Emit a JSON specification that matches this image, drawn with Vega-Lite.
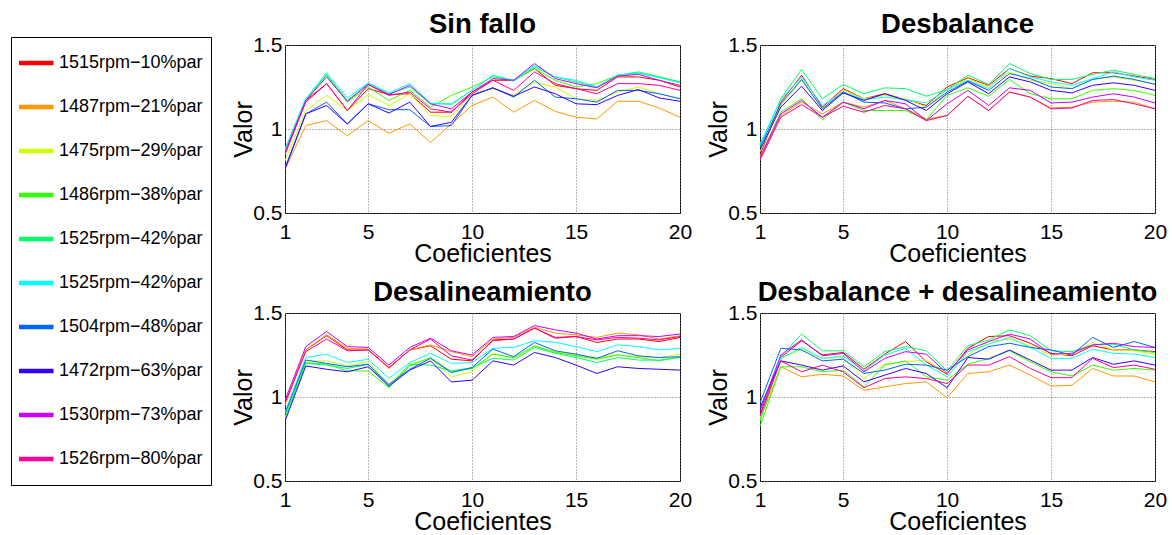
{
"$schema": "https://vega.github.io/schema/vega-lite/v6.json",
"padding": {"left": 10, "top": 10, "right": 0, "bottom": 0},
"background": "white",
"bounds": "flush",
"columns": 2,
"spacing": {"row": 100, "column": 80},
"config": {
  "font": "Liberation Sans",
  "view": {"stroke": "black", "strokeWidth": 1},
  "axis": {"labelFontSize": 21, "titleFontSize": 25, "titleFontWeight": "normal", "labelColor": "black", "titleColor": "black", "domain": false, "ticks": false, "tickSize": 0, "grid": true, "gridColor": "#666", "gridDash": [1, 2], "gridOpacity": 1, "gridWidth": 1, "labelFlush": false, "labelOverlap": false},
  "axisX": {"labelPadding": 8, "titlePadding": -1},
  "axisY": {"labelPadding": 3, "titlePadding": -4},
  "title": {"fontSize": 27.5, "fontWeight": "bold", "color": "black", "anchor": "middle", "frame": "group", "offset": -4, "baseline": "alphabetic"},
  "legend": {"orient": "none", "legendX": -274, "legendY": -8, "strokeColor": "black", "fillColor": "white", "padding": 8, "symbolType": "stroke", "symbolSize": 1296, "symbolStrokeWidth": 4.5, "symbolOffset": -4, "labelFontSize": 18, "labelColor": "black", "labelOffset": 3, "rowPadding": 8, "clipHeight": 36, "labelLimit": 300, "symbolOpacity": 1}
},
"datasets": {
"A": [
{"s":0,"c":1,"v":0.85},{"s":0,"c":2,"v":1.17},{"s":0,"c":3,"v":1.27},{"s":0,"c":4,"v":1.11},{"s":0,"c":5,"v":1.24},{"s":0,"c":6,"v":1.205},{"s":0,"c":7,"v":1.21},{"s":0,"c":8,"v":1.10},{"s":0,"c":9,"v":1.10},{"s":0,"c":10,"v":1.22},{"s":0,"c":11,"v":1.29},{"s":0,"c":12,"v":1.29},{"s":0,"c":13,"v":1.36},{"s":0,"c":14,"v":1.26},{"s":0,"c":15,"v":1.24},{"s":0,"c":16,"v":1.23},{"s":0,"c":17,"v":1.31},{"s":0,"c":18,"v":1.31},{"s":0,"c":19,"v":1.29},{"s":0,"c":20,"v":1.25},
{"s":1,"c":1,"v":0.76},{"s":1,"c":2,"v":1.02},{"s":1,"c":3,"v":1.05},{"s":1,"c":4,"v":0.96},{"s":1,"c":5,"v":1.05},{"s":1,"c":6,"v":0.975},{"s":1,"c":7,"v":1.03},{"s":1,"c":8,"v":0.92},{"s":1,"c":9,"v":1.03},{"s":1,"c":10,"v":1.14},{"s":1,"c":11,"v":1.19},{"s":1,"c":12,"v":1.10},{"s":1,"c":13,"v":1.17},{"s":1,"c":14,"v":1.105},{"s":1,"c":15,"v":1.07},{"s":1,"c":16,"v":1.06},{"s":1,"c":17,"v":1.165},{"s":1,"c":18,"v":1.165},{"s":1,"c":19,"v":1.125},{"s":1,"c":20,"v":1.07},
{"s":2,"c":1,"v":0.81},{"s":2,"c":2,"v":1.11},{"s":2,"c":3,"v":1.20},{"s":2,"c":4,"v":1.11},{"s":2,"c":5,"v":1.205},{"s":2,"c":6,"v":1.14},{"s":2,"c":7,"v":1.21},{"s":2,"c":8,"v":1.08},{"s":2,"c":9,"v":1.075},{"s":2,"c":10,"v":1.21},{"s":2,"c":11,"v":1.24},{"s":2,"c":12,"v":1.20},{"s":2,"c":13,"v":1.28},{"s":2,"c":14,"v":1.25},{"s":2,"c":15,"v":1.18},{"s":2,"c":16,"v":1.17},{"s":2,"c":17,"v":1.22},{"s":2,"c":18,"v":1.25},{"s":2,"c":19,"v":1.21},{"s":2,"c":20,"v":1.18},
{"s":3,"c":1,"v":0.87},{"s":3,"c":2,"v":1.17},{"s":3,"c":3,"v":1.32},{"s":3,"c":4,"v":1.16},{"s":3,"c":5,"v":1.25},{"s":3,"c":6,"v":1.17},{"s":3,"c":7,"v":1.23},{"s":3,"c":8,"v":1.13},{"s":3,"c":9,"v":1.20},{"s":3,"c":10,"v":1.25},{"s":3,"c":11,"v":1.31},{"s":3,"c":12,"v":1.29},{"s":3,"c":13,"v":1.36},{"s":3,"c":14,"v":1.29},{"s":3,"c":15,"v":1.25},{"s":3,"c":16,"v":1.27},{"s":3,"c":17,"v":1.32},{"s":3,"c":18,"v":1.33},{"s":3,"c":19,"v":1.31},{"s":3,"c":20,"v":1.28},
{"s":4,"c":1,"v":0.88},{"s":4,"c":2,"v":1.18},{"s":4,"c":3,"v":1.325},{"s":4,"c":4,"v":1.17},{"s":4,"c":5,"v":1.27},{"s":4,"c":6,"v":1.21},{"s":4,"c":7,"v":1.25},{"s":4,"c":8,"v":1.15},{"s":4,"c":9,"v":1.15},{"s":4,"c":10,"v":1.23},{"s":4,"c":11,"v":1.32},{"s":4,"c":12,"v":1.285},{"s":4,"c":13,"v":1.37},{"s":4,"c":14,"v":1.31},{"s":4,"c":15,"v":1.28},{"s":4,"c":16,"v":1.25},{"s":4,"c":17,"v":1.32},{"s":4,"c":18,"v":1.34},{"s":4,"c":19,"v":1.31},{"s":4,"c":20,"v":1.28},
{"s":5,"c":1,"v":0.88},{"s":5,"c":2,"v":1.18},{"s":5,"c":3,"v":1.335},{"s":5,"c":4,"v":1.185},{"s":5,"c":5,"v":1.275},{"s":5,"c":6,"v":1.215},{"s":5,"c":7,"v":1.27},{"s":5,"c":8,"v":1.155},{"s":5,"c":9,"v":1.145},{"s":5,"c":10,"v":1.23},{"s":5,"c":11,"v":1.32},{"s":5,"c":12,"v":1.29},{"s":5,"c":13,"v":1.38},{"s":5,"c":14,"v":1.31},{"s":5,"c":15,"v":1.29},{"s":5,"c":16,"v":1.25},{"s":5,"c":17,"v":1.32},{"s":5,"c":18,"v":1.335},{"s":5,"c":19,"v":1.305},{"s":5,"c":20,"v":1.275},
{"s":6,"c":1,"v":0.77},{"s":6,"c":2,"v":1.09},{"s":6,"c":3,"v":1.16},{"s":6,"c":4,"v":1.03},{"s":6,"c":5,"v":1.15},{"s":6,"c":6,"v":1.115},{"s":6,"c":7,"v":1.115},{"s":6,"c":8,"v":1.015},{"s":6,"c":9,"v":1.02},{"s":6,"c":10,"v":1.20},{"s":6,"c":11,"v":1.245},{"s":6,"c":12,"v":1.19},{"s":6,"c":13,"v":1.29},{"s":6,"c":14,"v":1.19},{"s":6,"c":15,"v":1.18},{"s":6,"c":16,"v":1.16},{"s":6,"c":17,"v":1.23},{"s":6,"c":18,"v":1.23},{"s":6,"c":19,"v":1.21},{"s":6,"c":20,"v":1.18},
{"s":7,"c":1,"v":0.76},{"s":7,"c":2,"v":1.09},{"s":7,"c":3,"v":1.14},{"s":7,"c":4,"v":1.03},{"s":7,"c":5,"v":1.15},{"s":7,"c":6,"v":1.095},{"s":7,"c":7,"v":1.16},{"s":7,"c":8,"v":1.015},{"s":7,"c":9,"v":1.04},{"s":7,"c":10,"v":1.20},{"s":7,"c":11,"v":1.245},{"s":7,"c":12,"v":1.195},{"s":7,"c":13,"v":1.25},{"s":7,"c":14,"v":1.21},{"s":7,"c":15,"v":1.15},{"s":7,"c":16,"v":1.145},{"s":7,"c":17,"v":1.20},{"s":7,"c":18,"v":1.235},{"s":7,"c":19,"v":1.185},{"s":7,"c":20,"v":1.165},
{"s":8,"c":1,"v":0.86},{"s":8,"c":2,"v":1.17},{"s":8,"c":3,"v":1.31},{"s":8,"c":4,"v":1.165},{"s":8,"c":5,"v":1.265},{"s":8,"c":6,"v":1.205},{"s":8,"c":7,"v":1.26},{"s":8,"c":8,"v":1.15},{"s":8,"c":9,"v":1.12},{"s":8,"c":10,"v":1.22},{"s":8,"c":11,"v":1.30},{"s":8,"c":12,"v":1.29},{"s":8,"c":13,"v":1.39},{"s":8,"c":14,"v":1.30},{"s":8,"c":15,"v":1.27},{"s":8,"c":16,"v":1.245},{"s":8,"c":17,"v":1.315},{"s":8,"c":18,"v":1.325},{"s":8,"c":19,"v":1.29},{"s":8,"c":20,"v":1.26},
{"s":9,"c":1,"v":0.85},{"s":9,"c":2,"v":1.16},{"s":9,"c":3,"v":1.27},{"s":9,"c":4,"v":1.11},{"s":9,"c":5,"v":1.265},{"s":9,"c":6,"v":1.20},{"s":9,"c":7,"v":1.22},{"s":9,"c":8,"v":1.12},{"s":9,"c":9,"v":1.10},{"s":9,"c":10,"v":1.21},{"s":9,"c":11,"v":1.29},{"s":9,"c":12,"v":1.23},{"s":9,"c":13,"v":1.34},{"s":9,"c":14,"v":1.27},{"s":9,"c":15,"v":1.24},{"s":9,"c":16,"v":1.21},{"s":9,"c":17,"v":1.27},{"s":9,"c":18,"v":1.27},{"s":9,"c":19,"v":1.26},{"s":9,"c":20,"v":1.23}
],
"B": [
{"s":0,"c":1,"v":0.845},{"s":0,"c":2,"v":1.16},{"s":0,"c":3,"v":1.32},{"s":0,"c":4,"v":1.13},{"s":0,"c":5,"v":1.24},{"s":0,"c":6,"v":1.18},{"s":0,"c":7,"v":1.21},{"s":0,"c":8,"v":1.175},{"s":0,"c":9,"v":1.14},{"s":0,"c":10,"v":1.25},{"s":0,"c":11,"v":1.305},{"s":0,"c":12,"v":1.26},{"s":0,"c":13,"v":1.36},{"s":0,"c":14,"v":1.315},{"s":0,"c":15,"v":1.30},{"s":0,"c":16,"v":1.27},{"s":0,"c":17,"v":1.335},{"s":0,"c":18,"v":1.335},{"s":0,"c":19,"v":1.315},{"s":0,"c":20,"v":1.295},
{"s":1,"c":1,"v":0.82},{"s":1,"c":2,"v":1.08},{"s":1,"c":3,"v":1.16},{"s":1,"c":4,"v":1.09},{"s":1,"c":5,"v":1.16},{"s":1,"c":6,"v":1.13},{"s":1,"c":7,"v":1.17},{"s":1,"c":8,"v":1.12},{"s":1,"c":9,"v":1.06},{"s":1,"c":10,"v":1.08},{"s":1,"c":11,"v":1.195},{"s":1,"c":12,"v":1.11},{"s":1,"c":13,"v":1.22},{"s":1,"c":14,"v":1.19},{"s":1,"c":15,"v":1.125},{"s":1,"c":16,"v":1.13},{"s":1,"c":17,"v":1.16},{"s":1,"c":18,"v":1.165},{"s":1,"c":19,"v":1.16},{"s":1,"c":20,"v":1.12},
{"s":2,"c":1,"v":0.865},{"s":2,"c":2,"v":1.14},{"s":2,"c":3,"v":1.29},{"s":2,"c":4,"v":1.12},{"s":2,"c":5,"v":1.23},{"s":2,"c":6,"v":1.18},{"s":2,"c":7,"v":1.20},{"s":2,"c":8,"v":1.18},{"s":2,"c":9,"v":1.13},{"s":2,"c":10,"v":1.235},{"s":2,"c":11,"v":1.30},{"s":2,"c":12,"v":1.25},{"s":2,"c":13,"v":1.34},{"s":2,"c":14,"v":1.29},{"s":2,"c":15,"v":1.27},{"s":2,"c":16,"v":1.24},{"s":2,"c":17,"v":1.295},{"s":2,"c":18,"v":1.31},{"s":2,"c":19,"v":1.29},{"s":2,"c":20,"v":1.27},
{"s":3,"c":1,"v":0.835},{"s":3,"c":2,"v":1.10},{"s":3,"c":3,"v":1.18},{"s":3,"c":4,"v":1.055},{"s":3,"c":5,"v":1.16},{"s":3,"c":6,"v":1.11},{"s":3,"c":7,"v":1.11},{"s":3,"c":8,"v":1.11},{"s":3,"c":9,"v":1.055},{"s":3,"c":10,"v":1.20},{"s":3,"c":11,"v":1.245},{"s":3,"c":12,"v":1.195},{"s":3,"c":13,"v":1.295},{"s":3,"c":14,"v":1.21},{"s":3,"c":15,"v":1.18},{"s":3,"c":16,"v":1.18},{"s":3,"c":17,"v":1.23},{"s":3,"c":18,"v":1.24},{"s":3,"c":19,"v":1.23},{"s":3,"c":20,"v":1.20},
{"s":4,"c":1,"v":0.90},{"s":4,"c":2,"v":1.18},{"s":4,"c":3,"v":1.355},{"s":4,"c":4,"v":1.18},{"s":4,"c":5,"v":1.265},{"s":4,"c":6,"v":1.21},{"s":4,"c":7,"v":1.245},{"s":4,"c":8,"v":1.24},{"s":4,"c":9,"v":1.195},{"s":4,"c":10,"v":1.235},{"s":4,"c":11,"v":1.32},{"s":4,"c":12,"v":1.265},{"s":4,"c":13,"v":1.39},{"s":4,"c":14,"v":1.33},{"s":4,"c":15,"v":1.295},{"s":4,"c":16,"v":1.295},{"s":4,"c":17,"v":1.325},{"s":4,"c":18,"v":1.35},{"s":4,"c":19,"v":1.325},{"s":4,"c":20,"v":1.30},
{"s":5,"c":1,"v":0.91},{"s":5,"c":2,"v":1.175},{"s":5,"c":3,"v":1.31},{"s":5,"c":4,"v":1.14},{"s":5,"c":5,"v":1.22},{"s":5,"c":6,"v":1.175},{"s":5,"c":7,"v":1.19},{"s":5,"c":8,"v":1.175},{"s":5,"c":9,"v":1.155},{"s":5,"c":10,"v":1.235},{"s":5,"c":11,"v":1.29},{"s":5,"c":12,"v":1.24},{"s":5,"c":13,"v":1.36},{"s":5,"c":14,"v":1.31},{"s":5,"c":15,"v":1.28},{"s":5,"c":16,"v":1.26},{"s":5,"c":17,"v":1.30},{"s":5,"c":18,"v":1.34},{"s":5,"c":19,"v":1.31},{"s":5,"c":20,"v":1.29},
{"s":6,"c":1,"v":0.89},{"s":6,"c":2,"v":1.15},{"s":6,"c":3,"v":1.295},{"s":6,"c":4,"v":1.12},{"s":6,"c":5,"v":1.22},{"s":6,"c":6,"v":1.16},{"s":6,"c":7,"v":1.155},{"s":6,"c":8,"v":1.12},{"s":6,"c":9,"v":1.13},{"s":6,"c":10,"v":1.22},{"s":6,"c":11,"v":1.285},{"s":6,"c":12,"v":1.23},{"s":6,"c":13,"v":1.33},{"s":6,"c":14,"v":1.30},{"s":6,"c":15,"v":1.25},{"s":6,"c":16,"v":1.24},{"s":6,"c":17,"v":1.295},{"s":6,"c":18,"v":1.315},{"s":6,"c":19,"v":1.295},{"s":6,"c":20,"v":1.265},
{"s":7,"c":1,"v":0.875},{"s":7,"c":2,"v":1.13},{"s":7,"c":3,"v":1.255},{"s":7,"c":4,"v":1.11},{"s":7,"c":5,"v":1.215},{"s":7,"c":6,"v":1.17},{"s":7,"c":7,"v":1.21},{"s":7,"c":8,"v":1.17},{"s":7,"c":9,"v":1.11},{"s":7,"c":10,"v":1.21},{"s":7,"c":11,"v":1.28},{"s":7,"c":12,"v":1.21},{"s":7,"c":13,"v":1.31},{"s":7,"c":14,"v":1.28},{"s":7,"c":15,"v":1.23},{"s":7,"c":16,"v":1.215},{"s":7,"c":17,"v":1.26},{"s":7,"c":18,"v":1.275},{"s":7,"c":19,"v":1.26},{"s":7,"c":20,"v":1.23},
{"s":8,"c":1,"v":0.83},{"s":8,"c":2,"v":1.09},{"s":8,"c":3,"v":1.17},{"s":8,"c":4,"v":1.07},{"s":8,"c":5,"v":1.16},{"s":8,"c":6,"v":1.12},{"s":8,"c":7,"v":1.17},{"s":8,"c":8,"v":1.15},{"s":8,"c":9,"v":1.05},{"s":8,"c":10,"v":1.15},{"s":8,"c":11,"v":1.23},{"s":8,"c":12,"v":1.14},{"s":8,"c":13,"v":1.245},{"s":8,"c":14,"v":1.23},{"s":8,"c":15,"v":1.155},{"s":8,"c":16,"v":1.16},{"s":8,"c":17,"v":1.19},{"s":8,"c":18,"v":1.21},{"s":8,"c":19,"v":1.19},{"s":8,"c":20,"v":1.155},
{"s":9,"c":1,"v":0.815},{"s":9,"c":2,"v":1.07},{"s":9,"c":3,"v":1.145},{"s":9,"c":4,"v":1.07},{"s":9,"c":5,"v":1.135},{"s":9,"c":6,"v":1.10},{"s":9,"c":7,"v":1.14},{"s":9,"c":8,"v":1.12},{"s":9,"c":9,"v":1.05},{"s":9,"c":10,"v":1.08},{"s":9,"c":11,"v":1.195},{"s":9,"c":12,"v":1.11},{"s":9,"c":13,"v":1.22},{"s":9,"c":14,"v":1.19},{"s":9,"c":15,"v":1.12},{"s":9,"c":16,"v":1.125},{"s":9,"c":17,"v":1.17},{"s":9,"c":18,"v":1.175},{"s":9,"c":19,"v":1.15},{"s":9,"c":20,"v":1.12}
],
"C": [
{"s":0,"c":1,"v":0.96},{"s":0,"c":2,"v":1.28},{"s":0,"c":3,"v":1.365},{"s":0,"c":4,"v":1.28},{"s":0,"c":5,"v":1.28},{"s":0,"c":6,"v":1.175},{"s":0,"c":7,"v":1.28},{"s":0,"c":8,"v":1.305},{"s":0,"c":9,"v":1.225},{"s":0,"c":10,"v":1.215},{"s":0,"c":11,"v":1.34},{"s":0,"c":12,"v":1.345},{"s":0,"c":13,"v":1.41},{"s":0,"c":14,"v":1.35},{"s":0,"c":15,"v":1.36},{"s":0,"c":16,"v":1.325},{"s":0,"c":17,"v":1.345},{"s":0,"c":18,"v":1.345},{"s":0,"c":19,"v":1.33},{"s":0,"c":20,"v":1.355},
{"s":1,"c":1,"v":0.95},{"s":1,"c":2,"v":1.28},{"s":1,"c":3,"v":1.37},{"s":1,"c":4,"v":1.29},{"s":1,"c":5,"v":1.285},{"s":1,"c":6,"v":1.17},{"s":1,"c":7,"v":1.28},{"s":1,"c":8,"v":1.31},{"s":1,"c":9,"v":1.27},{"s":1,"c":10,"v":1.24},{"s":1,"c":11,"v":1.345},{"s":1,"c":12,"v":1.355},{"s":1,"c":13,"v":1.415},{"s":1,"c":14,"v":1.38},{"s":1,"c":15,"v":1.37},{"s":1,"c":16,"v":1.355},{"s":1,"c":17,"v":1.38},{"s":1,"c":18,"v":1.37},{"s":1,"c":19,"v":1.345},{"s":1,"c":20,"v":1.365},
{"s":2,"c":1,"v":0.90},{"s":2,"c":2,"v":1.215},{"s":2,"c":3,"v":1.215},{"s":2,"c":4,"v":1.185},{"s":2,"c":5,"v":1.21},{"s":2,"c":6,"v":1.075},{"s":2,"c":7,"v":1.195},{"s":2,"c":8,"v":1.23},{"s":2,"c":9,"v":1.12},{"s":2,"c":10,"v":1.15},{"s":2,"c":11,"v":1.26},{"s":2,"c":12,"v":1.23},{"s":2,"c":13,"v":1.30},{"s":2,"c":14,"v":1.27},{"s":2,"c":15,"v":1.25},{"s":2,"c":16,"v":1.235},{"s":2,"c":17,"v":1.25},{"s":2,"c":18,"v":1.24},{"s":2,"c":19,"v":1.235},{"s":2,"c":20,"v":1.255},
{"s":3,"c":1,"v":0.88},{"s":3,"c":2,"v":1.205},{"s":3,"c":3,"v":1.195},{"s":3,"c":4,"v":1.155},{"s":3,"c":5,"v":1.155},{"s":3,"c":6,"v":1.055},{"s":3,"c":7,"v":1.185},{"s":3,"c":8,"v":1.235},{"s":3,"c":9,"v":1.15},{"s":3,"c":10,"v":1.17},{"s":3,"c":11,"v":1.255},{"s":3,"c":12,"v":1.235},{"s":3,"c":13,"v":1.305},{"s":3,"c":14,"v":1.265},{"s":3,"c":15,"v":1.245},{"s":3,"c":16,"v":1.225},{"s":3,"c":17,"v":1.25},{"s":3,"c":18,"v":1.235},{"s":3,"c":19,"v":1.215},{"s":3,"c":20,"v":1.24},
{"s":4,"c":1,"v":0.87},{"s":4,"c":2,"v":1.20},{"s":4,"c":3,"v":1.19},{"s":4,"c":4,"v":1.17},{"s":4,"c":5,"v":1.195},{"s":4,"c":6,"v":1.06},{"s":4,"c":7,"v":1.195},{"s":4,"c":8,"v":1.19},{"s":4,"c":9,"v":1.155},{"s":4,"c":10,"v":1.175},{"s":4,"c":11,"v":1.23},{"s":4,"c":12,"v":1.22},{"s":4,"c":13,"v":1.295},{"s":4,"c":14,"v":1.26},{"s":4,"c":15,"v":1.235},{"s":4,"c":16,"v":1.205},{"s":4,"c":17,"v":1.235},{"s":4,"c":18,"v":1.22},{"s":4,"c":19,"v":1.22},{"s":4,"c":20,"v":1.235},
{"s":5,"c":1,"v":0.91},{"s":5,"c":2,"v":1.235},{"s":5,"c":3,"v":1.255},{"s":5,"c":4,"v":1.205},{"s":5,"c":5,"v":1.225},{"s":5,"c":6,"v":1.11},{"s":5,"c":7,"v":1.205},{"s":5,"c":8,"v":1.26},{"s":5,"c":9,"v":1.20},{"s":5,"c":10,"v":1.205},{"s":5,"c":11,"v":1.29},{"s":5,"c":12,"v":1.295},{"s":5,"c":13,"v":1.335},{"s":5,"c":14,"v":1.325},{"s":5,"c":15,"v":1.30},{"s":5,"c":16,"v":1.27},{"s":5,"c":17,"v":1.31},{"s":5,"c":18,"v":1.30},{"s":5,"c":19,"v":1.28},{"s":5,"c":20,"v":1.29},
{"s":6,"c":1,"v":0.90},{"s":6,"c":2,"v":1.22},{"s":6,"c":3,"v":1.20},{"s":6,"c":4,"v":1.18},{"s":6,"c":5,"v":1.195},{"s":6,"c":6,"v":1.075},{"s":6,"c":7,"v":1.165},{"s":6,"c":8,"v":1.23},{"s":6,"c":9,"v":1.145},{"s":6,"c":10,"v":1.175},{"s":6,"c":11,"v":1.285},{"s":6,"c":12,"v":1.24},{"s":6,"c":13,"v":1.325},{"s":6,"c":14,"v":1.275},{"s":6,"c":15,"v":1.255},{"s":6,"c":16,"v":1.23},{"s":6,"c":17,"v":1.275},{"s":6,"c":18,"v":1.245},{"s":6,"c":19,"v":1.235},{"s":6,"c":20,"v":1.24},
{"s":7,"c":1,"v":0.855},{"s":7,"c":2,"v":1.185},{"s":7,"c":3,"v":1.165},{"s":7,"c":4,"v":1.15},{"s":7,"c":5,"v":1.18},{"s":7,"c":6,"v":1.065},{"s":7,"c":7,"v":1.16},{"s":7,"c":8,"v":1.215},{"s":7,"c":9,"v":1.09},{"s":7,"c":10,"v":1.10},{"s":7,"c":11,"v":1.215},{"s":7,"c":12,"v":1.19},{"s":7,"c":13,"v":1.265},{"s":7,"c":14,"v":1.235},{"s":7,"c":15,"v":1.19},{"s":7,"c":16,"v":1.14},{"s":7,"c":17,"v":1.18},{"s":7,"c":18,"v":1.17},{"s":7,"c":19,"v":1.165},{"s":7,"c":20,"v":1.16},
{"s":8,"c":1,"v":0.98},{"s":8,"c":2,"v":1.30},{"s":8,"c":3,"v":1.39},{"s":8,"c":4,"v":1.30},{"s":8,"c":5,"v":1.295},{"s":8,"c":6,"v":1.19},{"s":8,"c":7,"v":1.295},{"s":8,"c":8,"v":1.35},{"s":8,"c":9,"v":1.275},{"s":8,"c":10,"v":1.25},{"s":8,"c":11,"v":1.355},{"s":8,"c":12,"v":1.36},{"s":8,"c":13,"v":1.425},{"s":8,"c":14,"v":1.40},{"s":8,"c":15,"v":1.38},{"s":8,"c":16,"v":1.345},{"s":8,"c":17,"v":1.365},{"s":8,"c":18,"v":1.365},{"s":8,"c":19,"v":1.36},{"s":8,"c":20,"v":1.375},
{"s":9,"c":1,"v":0.965},{"s":9,"c":2,"v":1.27},{"s":9,"c":3,"v":1.345},{"s":9,"c":4,"v":1.275},{"s":9,"c":5,"v":1.28},{"s":9,"c":6,"v":1.175},{"s":9,"c":7,"v":1.28},{"s":9,"c":8,"v":1.345},{"s":9,"c":9,"v":1.245},{"s":9,"c":10,"v":1.22},{"s":9,"c":11,"v":1.335},{"s":9,"c":12,"v":1.345},{"s":9,"c":13,"v":1.41},{"s":9,"c":14,"v":1.355},{"s":9,"c":15,"v":1.36},{"s":9,"c":16,"v":1.34},{"s":9,"c":17,"v":1.355},{"s":9,"c":18,"v":1.35},{"s":9,"c":19,"v":1.34},{"s":9,"c":20,"v":1.36}
],
"D": [
{"s":0,"c":1,"v":0.895},{"s":0,"c":2,"v":1.235},{"s":0,"c":3,"v":1.335},{"s":0,"c":4,"v":1.25},{"s":0,"c":5,"v":1.265},{"s":0,"c":6,"v":1.165},{"s":0,"c":7,"v":1.255},{"s":0,"c":8,"v":1.33},{"s":0,"c":9,"v":1.21},{"s":0,"c":10,"v":1.135},{"s":0,"c":11,"v":1.29},{"s":0,"c":12,"v":1.36},{"s":0,"c":13,"v":1.365},{"s":0,"c":14,"v":1.32},{"s":0,"c":15,"v":1.26},{"s":0,"c":16,"v":1.245},{"s":0,"c":17,"v":1.305},{"s":0,"c":18,"v":1.28},{"s":0,"c":19,"v":1.28},{"s":0,"c":20,"v":1.27},
{"s":1,"c":1,"v":0.865},{"s":1,"c":2,"v":1.18},{"s":1,"c":3,"v":1.12},{"s":1,"c":4,"v":1.135},{"s":1,"c":5,"v":1.125},{"s":1,"c":6,"v":1.04},{"s":1,"c":7,"v":1.06},{"s":1,"c":8,"v":1.08},{"s":1,"c":9,"v":1.09},{"s":1,"c":10,"v":0.995},{"s":1,"c":11,"v":1.14},{"s":1,"c":12,"v":1.15},{"s":1,"c":13,"v":1.19},{"s":1,"c":14,"v":1.13},{"s":1,"c":15,"v":1.065},{"s":1,"c":16,"v":1.07},{"s":1,"c":17,"v":1.17},{"s":1,"c":18,"v":1.125},{"s":1,"c":19,"v":1.125},{"s":1,"c":20,"v":1.09},
{"s":2,"c":1,"v":0.875},{"s":2,"c":2,"v":1.23},{"s":2,"c":3,"v":1.285},{"s":2,"c":4,"v":1.23},{"s":2,"c":5,"v":1.235},{"s":2,"c":6,"v":1.11},{"s":2,"c":7,"v":1.195},{"s":2,"c":8,"v":1.21},{"s":2,"c":9,"v":1.22},{"s":2,"c":10,"v":1.14},{"s":2,"c":11,"v":1.25},{"s":2,"c":12,"v":1.33},{"s":2,"c":13,"v":1.345},{"s":2,"c":14,"v":1.305},{"s":2,"c":15,"v":1.25},{"s":2,"c":16,"v":1.255},{"s":2,"c":17,"v":1.325},{"s":2,"c":18,"v":1.28},{"s":2,"c":19,"v":1.275},{"s":2,"c":20,"v":1.255},
{"s":3,"c":1,"v":0.825},{"s":3,"c":2,"v":1.18},{"s":3,"c":3,"v":1.18},{"s":3,"c":4,"v":1.15},{"s":3,"c":5,"v":1.16},{"s":3,"c":6,"v":1.06},{"s":3,"c":7,"v":1.19},{"s":3,"c":8,"v":1.215},{"s":3,"c":9,"v":1.12},{"s":3,"c":10,"v":1.10},{"s":3,"c":11,"v":1.195},{"s":3,"c":12,"v":1.23},{"s":3,"c":13,"v":1.275},{"s":3,"c":14,"v":1.21},{"s":3,"c":15,"v":1.15},{"s":3,"c":16,"v":1.125},{"s":3,"c":17,"v":1.19},{"s":3,"c":18,"v":1.16},{"s":3,"c":19,"v":1.17},{"s":3,"c":20,"v":1.16},
{"s":4,"c":1,"v":0.855},{"s":4,"c":2,"v":1.24},{"s":4,"c":3,"v":1.375},{"s":4,"c":4,"v":1.275},{"s":4,"c":5,"v":1.275},{"s":4,"c":6,"v":1.18},{"s":4,"c":7,"v":1.27},{"s":4,"c":8,"v":1.30},{"s":4,"c":9,"v":1.275},{"s":4,"c":10,"v":1.155},{"s":4,"c":11,"v":1.305},{"s":4,"c":12,"v":1.34},{"s":4,"c":13,"v":1.40},{"s":4,"c":14,"v":1.365},{"s":4,"c":15,"v":1.275},{"s":4,"c":16,"v":1.27},{"s":4,"c":17,"v":1.31},{"s":4,"c":18,"v":1.315},{"s":4,"c":19,"v":1.28},{"s":4,"c":20,"v":1.265},
{"s":5,"c":1,"v":0.935},{"s":5,"c":2,"v":1.23},{"s":5,"c":3,"v":1.295},{"s":5,"c":4,"v":1.23},{"s":5,"c":5,"v":1.245},{"s":5,"c":6,"v":1.155},{"s":5,"c":7,"v":1.25},{"s":5,"c":8,"v":1.29},{"s":5,"c":9,"v":1.19},{"s":5,"c":10,"v":1.12},{"s":5,"c":11,"v":1.27},{"s":5,"c":12,"v":1.315},{"s":5,"c":13,"v":1.355},{"s":5,"c":14,"v":1.295},{"s":5,"c":15,"v":1.23},{"s":5,"c":16,"v":1.23},{"s":5,"c":17,"v":1.285},{"s":5,"c":18,"v":1.26},{"s":5,"c":19,"v":1.255},{"s":5,"c":20,"v":1.235},
{"s":6,"c":1,"v":0.965},{"s":6,"c":2,"v":1.29},{"s":6,"c":3,"v":1.28},{"s":6,"c":4,"v":1.215},{"s":6,"c":5,"v":1.225},{"s":6,"c":6,"v":1.14},{"s":6,"c":7,"v":1.16},{"s":6,"c":8,"v":1.195},{"s":6,"c":9,"v":1.19},{"s":6,"c":10,"v":1.16},{"s":6,"c":11,"v":1.24},{"s":6,"c":12,"v":1.30},{"s":6,"c":13,"v":1.32},{"s":6,"c":14,"v":1.295},{"s":6,"c":15,"v":1.28},{"s":6,"c":16,"v":1.25},{"s":6,"c":17,"v":1.355},{"s":6,"c":18,"v":1.295},{"s":6,"c":19,"v":1.33},{"s":6,"c":20,"v":1.295},
{"s":7,"c":1,"v":0.935},{"s":7,"c":2,"v":1.215},{"s":7,"c":3,"v":1.19},{"s":7,"c":4,"v":1.16},{"s":7,"c":5,"v":1.185},{"s":7,"c":6,"v":1.09},{"s":7,"c":7,"v":1.13},{"s":7,"c":8,"v":1.17},{"s":7,"c":9,"v":1.14},{"s":7,"c":10,"v":1.055},{"s":7,"c":11,"v":1.235},{"s":7,"c":12,"v":1.225},{"s":7,"c":13,"v":1.28},{"s":7,"c":14,"v":1.22},{"s":7,"c":15,"v":1.16},{"s":7,"c":16,"v":1.16},{"s":7,"c":17,"v":1.235},{"s":7,"c":18,"v":1.195},{"s":7,"c":19,"v":1.215},{"s":7,"c":20,"v":1.19},
{"s":8,"c":1,"v":0.915},{"s":8,"c":2,"v":1.25},{"s":8,"c":3,"v":1.34},{"s":8,"c":4,"v":1.245},{"s":8,"c":5,"v":1.26},{"s":8,"c":6,"v":1.15},{"s":8,"c":7,"v":1.23},{"s":8,"c":8,"v":1.27},{"s":8,"c":9,"v":1.255},{"s":8,"c":10,"v":1.14},{"s":8,"c":11,"v":1.28},{"s":8,"c":12,"v":1.33},{"s":8,"c":13,"v":1.375},{"s":8,"c":14,"v":1.345},{"s":8,"c":15,"v":1.255},{"s":8,"c":16,"v":1.26},{"s":8,"c":17,"v":1.31},{"s":8,"c":18,"v":1.32},{"s":8,"c":19,"v":1.30},{"s":8,"c":20,"v":1.295},
{"s":9,"c":1,"v":0.885},{"s":9,"c":2,"v":1.215},{"s":9,"c":3,"v":1.15},{"s":9,"c":4,"v":1.19},{"s":9,"c":5,"v":1.15},{"s":9,"c":6,"v":1.055},{"s":9,"c":7,"v":1.11},{"s":9,"c":8,"v":1.12},{"s":9,"c":9,"v":1.11},{"s":9,"c":10,"v":1.08},{"s":9,"c":11,"v":1.19},{"s":9,"c":12,"v":1.19},{"s":9,"c":13,"v":1.24},{"s":9,"c":14,"v":1.17},{"s":9,"c":15,"v":1.115},{"s":9,"c":16,"v":1.115},{"s":9,"c":17,"v":1.23},{"s":9,"c":18,"v":1.175},{"s":9,"c":19,"v":1.19},{"s":9,"c":20,"v":1.165}
]
},
"concat": [
{"title": "Sin fallo", "width": 395, "height": 168, "data": {"name": "A"},
 "mark": {"type": "line", "strokeWidth": 1, "clip": true},
 "encoding": {
  "x": {"field": "c", "type": "quantitative", "scale": {"domain": [1, 20], "nice": false, "zero": false}, "axis": {"values": [1, 5, 10, 15, 20], "title": "Coeficientes"}},
  "y": {"field": "v", "type": "quantitative", "scale": {"domain": [0.5, 1.5], "nice": false, "zero": false}, "axis": {"values": [0.5, 1, 1.5], "format": "~g", "title": "Valor"}},
  "color": {"field": "s", "type": "nominal", "scale": {"domain": [0,1,2,3,4,5,6,7,8,9], "range": ["#FF0000","#FF9900","#CCFF00","#33FF00","#00FF66","#00FFFF","#0066FF","#3300FF","#CC00FF","#FF0099"]}, "legend": {"title": null, "labelExpr": "['1515rpm−10%par','1487rpm−21%par','1475rpm−29%par','1486rpm−38%par','1525rpm−42%par','1525rpm−42%par','1504rpm−48%par','1472rpm−63%par','1530rpm−73%par','1526rpm−80%par'][datum.value]"}}
 }},
{"title": "Desbalance", "width": 395, "height": 168, "data": {"name": "B"},
 "mark": {"type": "line", "strokeWidth": 1, "clip": true},
 "encoding": {
  "x": {"field": "c", "type": "quantitative", "scale": {"domain": [1, 20], "nice": false, "zero": false}, "axis": {"values": [1, 5, 10, 15, 20], "title": "Coeficientes"}},
  "y": {"field": "v", "type": "quantitative", "scale": {"domain": [0.5, 1.5], "nice": false, "zero": false}, "axis": {"values": [0.5, 1, 1.5], "format": "~g", "title": "Valor"}},
  "color": {"field": "s", "type": "nominal", "scale": {"domain": [0,1,2,3,4,5,6,7,8,9], "range": ["#FF0000","#FF9900","#CCFF00","#33FF00","#00FF66","#00FFFF","#0066FF","#3300FF","#CC00FF","#FF0099"]}, "legend": {"title": null, "labelExpr": "['1515rpm−10%par','1487rpm−21%par','1475rpm−29%par','1486rpm−38%par','1525rpm−42%par','1525rpm−42%par','1504rpm−48%par','1472rpm−63%par','1530rpm−73%par','1526rpm−80%par'][datum.value]"}}
 }},
{"title": "Desalineamiento", "width": 395, "height": 168, "data": {"name": "C"},
 "mark": {"type": "line", "strokeWidth": 1, "clip": true},
 "encoding": {
  "x": {"field": "c", "type": "quantitative", "scale": {"domain": [1, 20], "nice": false, "zero": false}, "axis": {"values": [1, 5, 10, 15, 20], "title": "Coeficientes"}},
  "y": {"field": "v", "type": "quantitative", "scale": {"domain": [0.5, 1.5], "nice": false, "zero": false}, "axis": {"values": [0.5, 1, 1.5], "format": "~g", "title": "Valor"}},
  "color": {"field": "s", "type": "nominal", "scale": {"domain": [0,1,2,3,4,5,6,7,8,9], "range": ["#FF0000","#FF9900","#CCFF00","#33FF00","#00FF66","#00FFFF","#0066FF","#3300FF","#CC00FF","#FF0099"]}, "legend": {"title": null, "labelExpr": "['1515rpm−10%par','1487rpm−21%par','1475rpm−29%par','1486rpm−38%par','1525rpm−42%par','1525rpm−42%par','1504rpm−48%par','1472rpm−63%par','1530rpm−73%par','1526rpm−80%par'][datum.value]"}}
 }},
{"title": "Desbalance + desalineamiento", "width": 395, "height": 168, "data": {"name": "D"},
 "mark": {"type": "line", "strokeWidth": 1, "clip": true},
 "encoding": {
  "x": {"field": "c", "type": "quantitative", "scale": {"domain": [1, 20], "nice": false, "zero": false}, "axis": {"values": [1, 5, 10, 15, 20], "title": "Coeficientes"}},
  "y": {"field": "v", "type": "quantitative", "scale": {"domain": [0.5, 1.5], "nice": false, "zero": false}, "axis": {"values": [0.5, 1, 1.5], "format": "~g", "title": "Valor"}},
  "color": {"field": "s", "type": "nominal", "scale": {"domain": [0,1,2,3,4,5,6,7,8,9], "range": ["#FF0000","#FF9900","#CCFF00","#33FF00","#00FF66","#00FFFF","#0066FF","#3300FF","#CC00FF","#FF0099"]}, "legend": {"title": null, "labelExpr": "['1515rpm−10%par','1487rpm−21%par','1475rpm−29%par','1486rpm−38%par','1525rpm−42%par','1525rpm−42%par','1504rpm−48%par','1472rpm−63%par','1530rpm−73%par','1526rpm−80%par'][datum.value]"}}
 }}
]
}
